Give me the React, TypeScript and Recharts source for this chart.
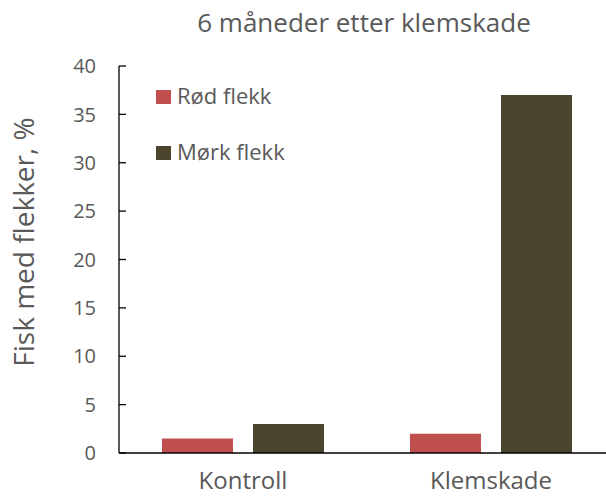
import { BarChart, Bar, XAxis, YAxis, Legend } from 'recharts';

const categories = ['Kontroll', 'Klemskade'];
const rodFlekk = [1.5, 2];
const morkFlekk = [3, 37];
const yTicks = [0, 5, 10, 15, 20, 25, 30, 35, 40];

const seriesNames = ['Rød flekk', 'Mørk flekk'];
const title = '6 måneder etter klemskade';
const yLabel = 'Fisk med flekker, %';

const RED = '#C0504D';
const DARK = '#4A452C';
const TEXT = '#595959';
const FONT = '"Open Sans", sans-serif';
const seriesColors = [RED, DARK];

const data = categories.map((name, i) => ({
  name,
  rod: rodFlekk[i],
  mork: morkFlekk[i],
}));

const YTick = (props: any) => {
  const { x, y, payload } = props;
  return (
    <g>
      <line x1={x + 23} x2={x + 30} y1={y} y2={y} stroke="#000" strokeWidth={1.3} />
      <text x={x} y={y} dy="0.36em" textAnchor="end" fill={TEXT} fontSize={20} fontFamily={FONT}>
        {payload.value}
      </text>
    </g>
  );
};

// legend drawn in series order (recharts reverses it in vertical layout)
const LegendBox = () => (
  <svg width={200} height={90} style={{ display: 'block' }}>
    {seriesNames.map((name, i) => (
      <g key={name}>
        <rect x={6} y={10 + i * 56} width={15} height={14} fill={seriesColors[i]} />
        <text x={27} y={24 + i * 56} fontSize={22} fill={TEXT} fontFamily={FONT}>
          {name}
        </text>
      </g>
    ))}
  </svg>
);

export default function App() {
  return (
    <div style={{ position: 'fixed', left: 0, top: 0, width: 606, height: 499, overflow: 'hidden', background: '#fff', fontFamily: FONT }}>
      <BarChart
        width={620}
        height={499}
        data={data}
        margin={{ top: 66, right: 5, left: 0, bottom: 0 }}
        barGap={20}
        barSize={71}
      >
        <XAxis
          dataKey="name"
          height={46}
          tickLine={false}
          tickSize={0}
          tickMargin={19}
          axisLine={{ stroke: '#000', strokeWidth: 1.3 }}
          tick={{ fill: TEXT, fontSize: 24, fontFamily: FONT }}
        />
        <YAxis
          width={119}
          domain={[0, 40]}
          ticks={yTicks}
          interval={0}
          tickLine={false}
          tickSize={0}
          tickMargin={23}
          axisLine={{ stroke: '#000', strokeWidth: 1.3 }}
          tick={YTick}
        />
        <Legend
          layout="vertical"
          align="center"
          verticalAlign="middle"
          content={LegendBox}
          wrapperStyle={{ top: 80, left: 150, width: 200, height: 90 }}
        />
        <Bar dataKey="rod" name={seriesNames[0]} fill={RED} isAnimationActive={false} />
        <Bar dataKey="mork" name={seriesNames[1]} fill={DARK} isAnimationActive={false} />
      </BarChart>
      <svg width={606} height={499} style={{ position: 'absolute', left: 0, top: 0, pointerEvents: 'none' }}>
        <text x={364} y={32} textAnchor="middle" fontSize={26} fill={TEXT} fontFamily={FONT}>
          {title}
        </text>
        <text transform="translate(34,242) rotate(-90)" textAnchor="middle" fontSize={28} fill={TEXT} fontFamily={FONT}>
          {yLabel}
        </text>
      </svg>
    </div>
  );
}
